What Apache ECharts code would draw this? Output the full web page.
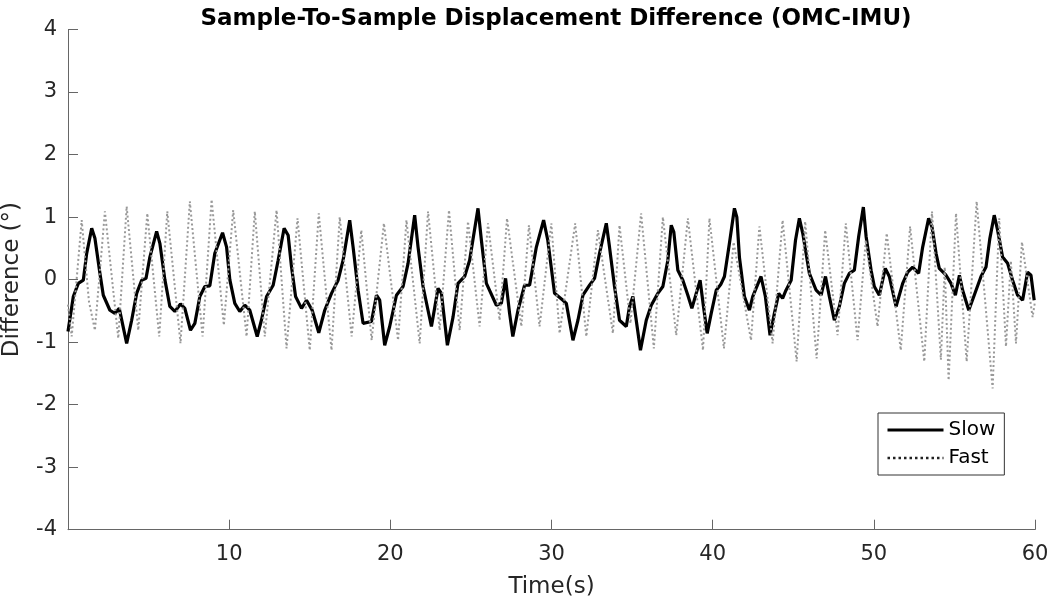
<!DOCTYPE html>
<html>
<head>
<meta charset="utf-8">
<script src="https://cdn.jsdelivr.net/npm/echarts@6/dist/echarts.min.js"></script>
<style>html,body{margin:0;padding:0;background:#fff}#c{width:1050px;height:608px}</style>
</head>
<body>
<div id="c"></div>
<script>
var xTicks = [0, 10, 20, 30, 40, 50, 60];
var yTicks = [-4, -3, -2, -1, 0, 1, 2, 3, 4];

var slowTime = [0,0.33,0.64,0.95,1.16,1.47,1.67,1.98,2.19,2.6,2.91,3.18,3.64,3.95,4.26,4.57,4.84,5.08,5.5,5.7,6.01,6.32,6.63,6.98,7.25,7.6,7.87,8.18,8.49,8.8,9.11,9.59,9.84,10.04,10.35,10.66,10.97,11.28,11.74,12.0,12.32,12.73,13.04,13.41,13.66,13.87,14.12,14.49,14.8,15.15,15.56,15.93,16.35,16.76,17.07,17.48,17.69,18.0,18.31,18.83,19.14,19.34,19.65,19.96,20.38,20.79,21.1,21.51,21.72,22.03,22.55,22.96,23.17,23.54,23.89,24.2,24.61,24.92,25.44,25.65,25.96,26.58,26.89,27.15,27.4,27.6,27.92,28.33,28.64,29.06,29.51,29.77,30.19,30.71,30.92,31.33,31.64,31.95,32.36,32.67,32.98,33.4,33.6,33.91,34.22,34.64,34.84,35.05,35.52,35.88,36.19,36.6,36.91,37.22,37.43,37.59,37.84,38.15,38.46,38.71,38.98,39.22,39.43,39.66,39.91,40.22,40.5,40.73,41.04,41.35,41.5,41.66,41.97,42.28,42.49,43.0,43.27,43.56,43.83,44.1,44.34,44.55,44.87,45.14,45.38,45.59,46.0,46.42,46.73,47.0,47.24,47.55,47.86,48.17,48.48,48.79,49.06,49.35,49.52,49.83,50.03,50.34,50.71,50.96,51.38,51.79,52.1,52.41,52.78,53.03,53.4,53.61,53.86,54.06,54.48,54.79,55.06,55.31,55.51,55.89,56.23,56.65,56.96,57.2,57.47,57.68,57.99,58.3,58.61,58.92,59.23,59.54,59.75,59.95];
var slowValue = [-0.83,-0.27,-0.06,-0.01,0.42,0.82,0.66,0.1,-0.25,-0.49,-0.54,-0.46,-1.02,-0.65,-0.22,-0.01,0.02,0.36,0.77,0.58,0,-0.43,-0.51,-0.39,-0.46,-0.81,-0.7,-0.27,-0.11,-0.1,0.42,0.75,0.52,0,-0.38,-0.51,-0.41,-0.49,-0.91,-0.65,-0.27,-0.09,0.31,0.82,0.71,0.2,-0.27,-0.46,-0.33,-0.49,-0.85,-0.49,-0.22,-0.01,0.31,0.95,0.52,-0.17,-0.7,-0.67,-0.25,-0.33,-1.05,-0.75,-0.25,-0.11,0.26,1.03,0.52,-0.11,-0.75,-0.14,-0.22,-1.05,-0.6,-0.06,0.05,0.31,1.14,0.63,-0.06,-0.41,-0.38,0.02,-0.54,-0.91,-0.49,-0.09,-0.09,0.52,0.95,0.63,-0.22,-0.33,-0.38,-0.97,-0.65,-0.25,-0.09,0.02,0.42,0.9,0.52,-0.11,-0.65,-0.75,-0.43,-0.27,-1.13,-0.65,-0.41,-0.22,-0.11,0.31,0.87,0.76,0.15,-0.01,-0.25,-0.46,-0.22,-0.01,-0.43,-0.86,-0.54,-0.17,-0.08,0.05,0.58,1.14,1.0,0.36,-0.27,-0.49,-0.27,0.05,-0.27,-0.89,-0.54,-0.22,-0.3,-0.17,-0.01,0.63,0.98,0.74,0.1,-0.17,-0.25,0.05,-0.27,-0.65,-0.43,-0.06,0.1,0.15,0.69,1.16,0.69,0.15,-0.11,-0.25,0.18,0.05,-0.43,-0.06,0.12,0.2,0.1,0.52,0.98,0.84,0.42,0.18,0.07,-0.06,-0.25,0.07,-0.17,-0.49,-0.25,0.05,0.2,0.66,1.03,0.79,0.36,0.26,-0.01,-0.25,-0.33,0.12,0.07,-0.33];

var fastTime = [0,0.23,0.85,1.3,1.67,2.29,3.12,3.64,4.36,4.92,5.66,6.16,6.98,7.56,8.35,8.91,9.67,10.25,11.08,11.59,12.21,12.94,13.56,14.24,15.0,15.56,16.35,16.86,17.6,18.2,18.84,19.6,20.48,21.0,21.82,22.34,23.06,23.64,24.3,24.82,25.54,26.06,26.78,27.24,28.13,28.6,29.26,29.99,30.5,31.47,32.16,32.88,33.81,34.22,34.9,35.56,36.35,36.91,37.74,38.46,39.4,39.8,40.7,41.3,42.38,42.9,43.72,44.34,45.21,45.74,46.45,46.98,47.75,48.26,48.99,49.5,50.23,50.8,51.67,52.25,53.13,53.61,54.16,54.4,54.64,55.1,55.76,56.38,57.37,57.78,58.2,58.5,58.82,59.19,59.85,60];
var fastValue = [-0.4,-0.91,0.95,-0.35,-0.81,1.09,-0.94,1.17,-0.81,1.06,-0.91,1.09,-1.02,1.25,-0.91,1.28,-0.73,1.11,-0.91,1.09,-0.91,1.11,-1.1,0.98,-1.13,1.06,-1.13,1.0,-0.91,0.79,-0.97,0.9,-0.97,0.95,-1.02,1.09,-0.81,1.11,-0.81,0.93,-0.75,0.9,-0.65,0.98,-0.75,0.87,-0.75,0.9,-0.86,0.9,-0.91,0.79,-0.86,0.87,-0.7,1.06,-1.1,1.0,-0.89,0.98,-1.13,0.98,-1.1,0.6,-0.97,0.85,-1.02,0.95,-1.31,0.93,-1.26,0.79,-0.89,0.9,-0.97,0.63,-0.75,0.74,-1.13,0.85,-1.31,1.09,-1.28,0.2,-1.61,1.06,-1.31,1.25,-1.74,0.98,-1.07,0.3,-1.02,0.6,-0.6,-0.35];

function zip(a, b) { return a.map(function (t, i) { return [t, b[i]]; }); }

var FONT = 'DejaVu Sans';
var chart = echarts.init(document.getElementById('c'), null, { renderer: 'canvas' });
chart.setOption({
  animation: false,
  backgroundColor: '#ffffff',
  title: {
    text: 'Sample-To-Sample Displacement Difference (OMC-IMU)',
    left: 551, top: 3, textAlign: 'center',
    textStyle: { fontFamily: FONT, fontSize: 23, fontWeight: 'bold', color: '#000' }
  },
  grid: { left: 68, right: 15, top: 29.5, bottom: 78.3, containLabel: false, outerBoundsMode: 'none' },
  legend: {
    orient: 'vertical', left: 878, top: 413,
    data: [
      { name: 'Slow', itemStyle: { opacity: 0 }, lineStyle: { color: '#000', width: 3, type: 'solid' } },
      { name: 'Fast', itemStyle: { opacity: 0 }, lineStyle: { color: '#222', width: 2.5, type: [2.5, 3] } }
    ],
    itemWidth: 56, itemHeight: 14, itemGap: 8,
    padding: [7, 9, 7, 8],
    borderColor: '#333', borderWidth: 1,
    backgroundColor: '#fff',
    textStyle: { fontFamily: FONT, fontSize: 20, color: '#000' }
  },
  xAxis: {
    type: 'value', min: xTicks[0], max: xTicks[xTicks.length - 1], interval: 10,
    name: 'Time(s)', nameLocation: 'middle', nameGap: 46,
    nameTextStyle: { fontFamily: FONT, fontSize: 23, color: '#262626' },
    axisLine: { show: true, onZero: false, lineStyle: { color: '#666', width: 1 } },
    axisTick: { show: true, inside: true, length: 10, lineStyle: { color: '#666' } },
    axisLabel: { showMinLabel: false, margin: 14, fontFamily: FONT, fontSize: 21, color: '#262626' },
    splitLine: { show: false }
  },
  yAxis: {
    type: 'value', min: yTicks[0], max: yTicks[yTicks.length - 1], interval: 1,
    name: 'Difference (°)', nameLocation: 'middle', nameGap: 44,
    nameTextStyle: { fontFamily: FONT, fontSize: 23, color: '#262626' },
    axisLine: { show: true, lineStyle: { color: '#666', width: 1 } },
    axisTick: { show: true, inside: true, length: 10, lineStyle: { color: '#666' } },
    axisLabel: { margin: 11, fontFamily: FONT, fontSize: 21, color: '#262626' },
    splitLine: { show: false }
  },
  series: [
    {
      name: 'Slow', type: 'line', data: zip(slowTime, slowValue),
      showSymbol: false, symbol: 'none',
      lineStyle: { color: '#000', width: 3.2 },
      itemStyle: { color: '#000' }, z: 2
    },
    {
      name: 'Fast', type: 'line', data: zip(fastTime, fastValue),
      showSymbol: false, symbol: 'none',
      lineStyle: { color: '#999', width: 2, type: [2, 2.5] },
      itemStyle: { color: '#999' }, z: 3
    }
  ]
});
</script>
</body>
</html>
